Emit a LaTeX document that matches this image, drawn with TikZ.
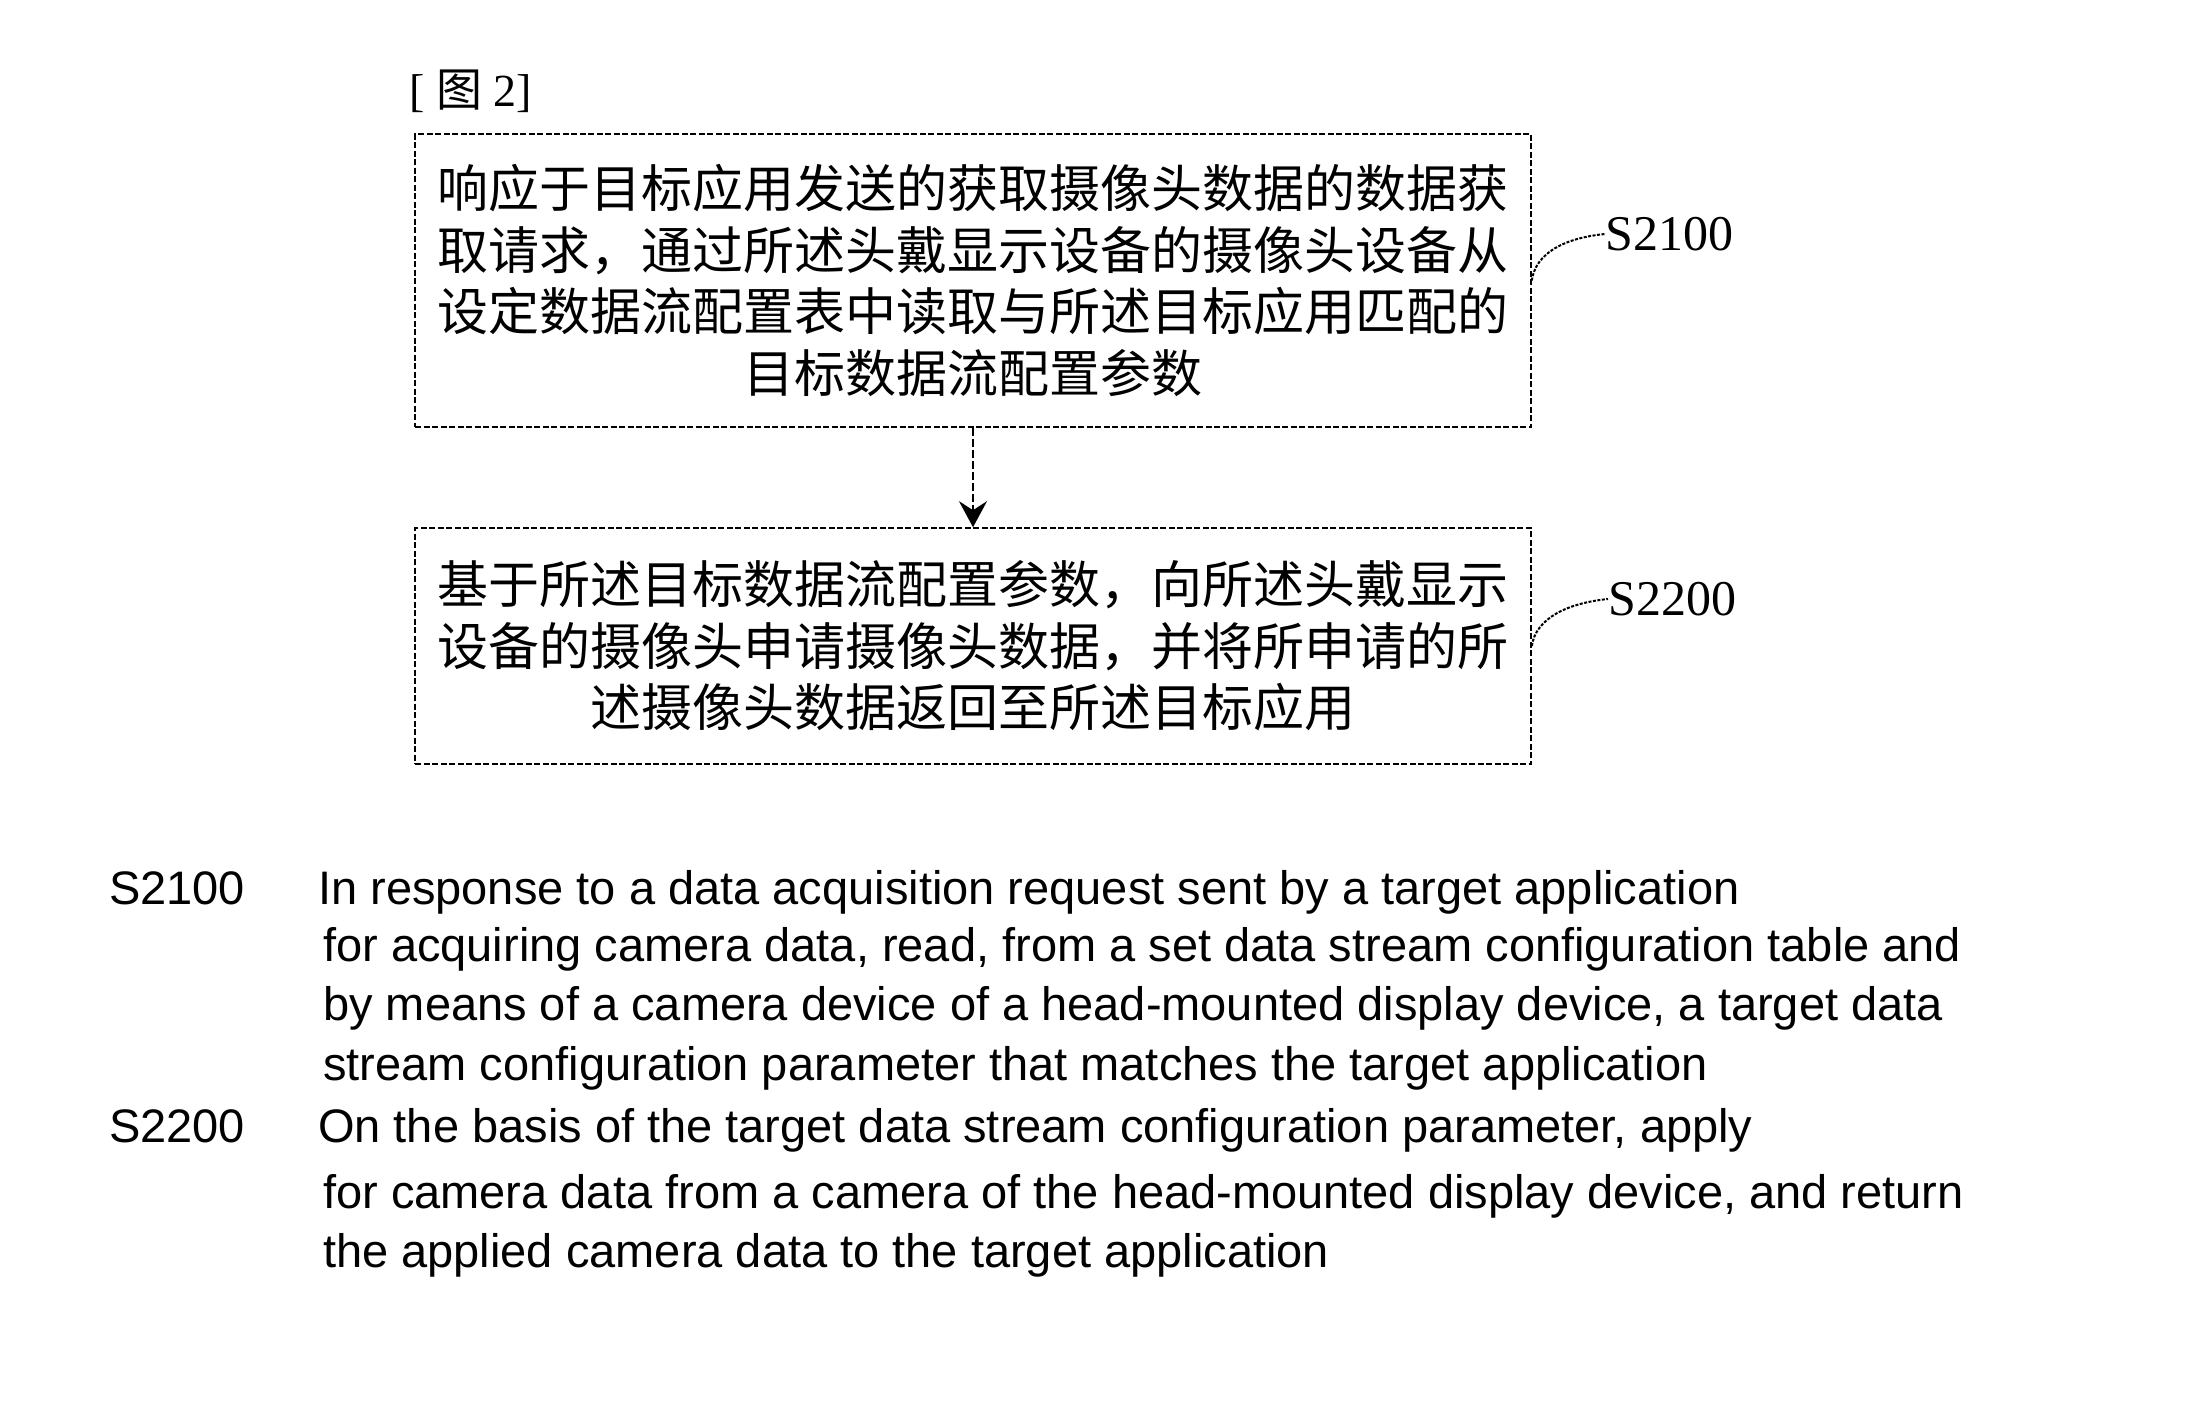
\documentclass[tikz,border=0pt]{standalone}
\usepackage{fontspec}
\setmainfont{Liberation Serif}
\newfontfamily\cjk{Noto Sans CJK SC}
\newfontfamily\arialf{Liberation Sans}
\usetikzlibrary{arrows.meta}
\begin{document}
\begin{tikzpicture}[x=1pt,y=-1pt,
  stepbox/.style={draw, line width=1.6pt, dash pattern=on 6pt off 2.5pt, minimum width=1116pt, inner sep=0pt, align=center, font=\cjk\fontsize{51}{61.5}\selectfont},
  lbl/.style={font=\fontsize{50}{60}\selectfont, inner sep=0pt, anchor=west},
  leader/.style={line width=2pt, dash pattern=on 3pt off 1.5pt},
  eng/.style={font=\arialf\fontsize{47}{59}\selectfont, inner sep=0pt, anchor=base west}
]
\fill[white] (0,0) rectangle (2190,1427);
\useasboundingbox (0,0) rectangle (2190,1427);

\node[font=\fontsize{46}{50}\selectfont, inner sep=0pt, anchor=west] (fig) at (409,91) {[ {\cjk 图} 2]};

\node[stepbox, minimum height=293pt] (b1) at (973,280.5) {响应于目标应用发送的获取摄像头数据的数据获\\取请求，通过所述头戴显示设备的摄像头设备从\\设定数据流配置表中读取与所述目标应用匹配的\\目标数据流配置参数};

\node[stepbox, minimum height=236pt] (b2) at (973,646) {基于所述目标数据流配置参数，向所述头戴显示\\设备的摄像头申请摄像头数据，并将所申请的所\\述摄像头数据返回至所述目标应用};

\draw[line width=2.4pt, dash pattern=on 8pt off 3pt, -{Stealth[length=26pt,width=28pt,inset=9pt]}] (b1.south) -- (b2.north);

\node[lbl] (l1) at (1605,234) {S2100};
\node[lbl] (l2) at (1608,599) {S2200};
\draw[leader] (b1.east) .. controls +(4,-28) and +(-40,4) .. (l1.west);
\draw[leader] (b2.east) .. controls +(4,-28) and +(-40,4) .. (l2.west);

\node[eng] (s1) at (109,904) {S2100};
\node[eng] (p1a) at (318,904) {In response to a data acquisition request sent by a target application};
\node[eng] (p1b) at (323,961) {for acquiring camera data, read, from a set data stream configuration table and};
\node[eng] (p1c) at (323,1020) {by means of a camera device of a head-mounted display device, a target data};
\node[eng] (p1d) at (323,1080) {stream configuration parameter that matches the target application};
\node[eng] (s2) at (109,1142) {S2200};
\node[eng] (p2a) at (318,1142) {On the basis of the target data stream configuration parameter, apply};
\node[eng] (p2b) at (323,1208) {for camera data from a camera of the head-mounted display device, and return};
\node[eng] (p2c) at (323,1267) {the applied camera data to the target application};
\end{tikzpicture}
\end{document}
